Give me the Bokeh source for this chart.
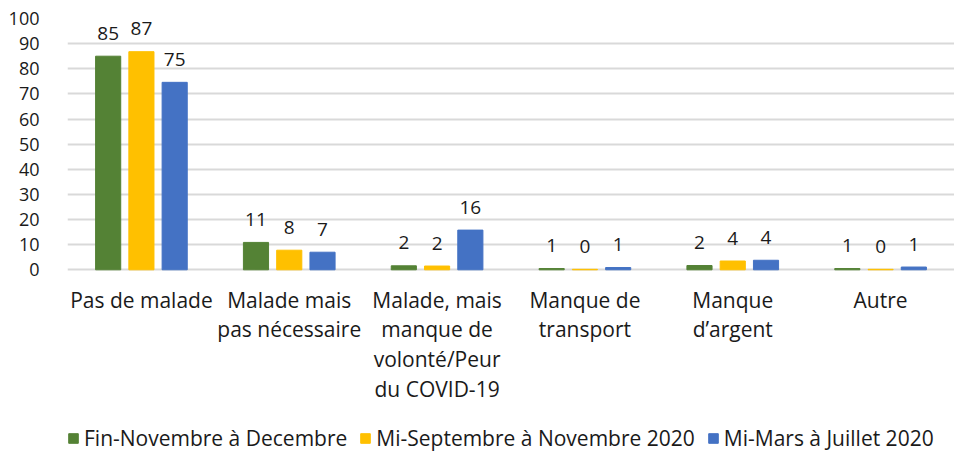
from bokeh.plotting import figure
from bokeh.models import ColumnDataSource, FactorRange, Legend, LegendItem, Range1d, FixedTicker
from bokeh.transform import dodge
from bokeh.core.properties import value
from bokeh.embed import file_html
from bokeh.resources import INLINE

categories = [
    "Pas de malade",
    "Malade mais\npas nécessaire",
    "Malade, mais\nmanque de\nvolonté/Peur\ndu COVID-19",
    "Manque de\ntransport",
    "Manque\nd’argent",
    "Autre",
]
series_names = [
    "Fin-Novembre à Decembre",
    "Mi-Septembre à Novembre 2020",
    "Mi-Mars à Juillet 2020",
]
fin_nov = [85.0, 10.9, 1.6, 0.5, 1.7, 0.5]
mi_sept = [86.8, 7.8, 1.5, 0.2, 3.5, 0.2]
mi_mars = [74.6, 7.0, 15.8, 0.9, 3.8, 1.1]
labels_fin_nov = ["85", "11", "2", "1", "2", "1"]
labels_mi_sept = ["87", "8", "2", "0", "4", "0"]
labels_mi_mars = ["75", "7", "16", "1", "4", "1"]
y_ticks = [0, 10, 20, 30, 40, 50, 60, 70, 80, 90, 100]

colors = ["#548235", "#FFC000", "#4472C4"]
offsets = [-0.225, 0.0, 0.225]
FONT = "Open Sans"
TXT = "#1a1a1a"

src = ColumnDataSource(dict(
    cat=categories,
    base=[0] * len(categories),
    s0=fin_nov, s1=mi_sept, s2=mi_mars,
    l0=labels_fin_nov, l1=labels_mi_sept, l2=labels_mi_mars,
))

p = figure(
    x_range=FactorRange(factors=categories, range_padding=0.0),
    y_range=Range1d(-72.7, 100.0),
    width=954, height=452,
    output_backend="svg", toolbar_location=None,
    min_border_left=67, min_border_right=0, min_border_top=18, min_border_bottom=0,
)

renderers = []
for i in range(3):
    r = p.vbar(x=dodge("cat", offsets[i], range=p.x_range), top=f"s{i}", width=0.17,
               source=src, fill_color=colors[i], line_color=colors[i])
    renderers.append(r)
    p.text(x=dodge("cat", offsets[i], range=p.x_range), y=f"s{i}", text=f"l{i}", source=src,
           text_align="center", text_baseline="middle", y_offset=-23,
           text_font=value(FONT), text_font_size="19px", text_color=TXT)

# category labels below the baseline
p.text(x="cat", y="base", text="cat", source=src,
       text_align="center", text_baseline="top", y_offset=16,
       text_font=value(FONT), text_font_size="21px", text_color=TXT,
       text_line_height=1.06)

p.outline_line_color = None
p.background_fill_color = "white"
p.border_fill_color = "white"

p.xgrid.grid_line_color = None
p.ygrid.grid_line_color = "#d9d9d9"
p.ygrid.grid_line_width = 2

p.xaxis.visible = False

p.yaxis.ticker = FixedTicker(ticks=y_ticks)
p.yaxis.axis_line_color = None
p.yaxis.major_tick_line_color = None
p.yaxis.minor_tick_line_color = None
p.yaxis.major_label_standoff = 22
p.yaxis.major_label_text_font = FONT
p.yaxis.major_label_text_font_size = "18px"
p.yaxis.major_label_text_color = TXT

legend = Legend(
    items=[LegendItem(label=series_names[i], renderers=[renderers[i]]) for i in range(3)],
    orientation="horizontal", location=(0, 0),
    border_line_color=None, background_fill_alpha=0,
    label_text_font=FONT, label_text_font_size="21px", label_text_color=TXT,
    glyph_width=12, glyph_height=12, label_standoff=5, spacing=12,
    padding=0, margin=0,
)
p.add_layout(legend, "center")

open("out.html", "w").write(file_html(p, INLINE))
